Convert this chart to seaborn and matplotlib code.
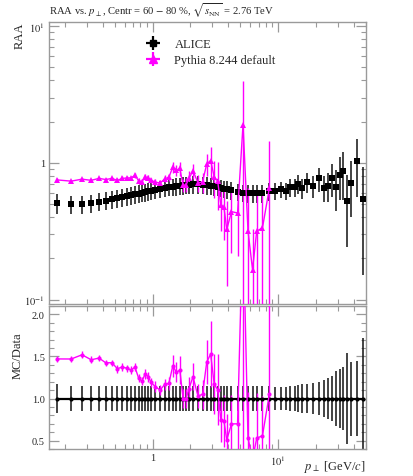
import numpy as np
import pandas as pd
import matplotlib
matplotlib.use("Agg")
import matplotlib.pyplot as plt
import seaborn as sns
from matplotlib.lines import Line2D
from matplotlib.ticker import FixedLocator, FixedFormatter, NullFormatter, MultipleLocator, LogLocator

# ---------------- data ----------------
pt = [0.175, 0.225, 0.275, 0.325, 0.375, 0.425, 0.475, 0.525, 0.575, 0.625,
      0.675, 0.725, 0.775, 0.825, 0.875, 0.925, 0.975,
      1.05, 1.15, 1.25, 1.35, 1.45, 1.55, 1.65, 1.75, 1.85, 1.95,
      2.1, 2.3, 2.5, 2.7, 2.9, 3.1, 3.3, 3.5, 3.7, 3.9,
      4.25, 4.75, 5.25, 5.75, 6.25, 6.75, 7.5, 8.5, 9.5,
      10.5, 11.5, 12.5, 13.5, 14.5, 15.5,
      17, 19, 21, 23, 25, 27, 29, 31, 33, 35, 38, 42.5, 47.5]

alice_raa = [0.51, 0.50, 0.50, 0.51, 0.52, 0.53, 0.54, 0.55, 0.56, 0.57,
             0.58, 0.59, 0.595, 0.605, 0.61, 0.62, 0.625,
             0.635, 0.645, 0.655, 0.665, 0.67, 0.675, 0.68, 0.685, 0.69, 0.69,
             0.695, 0.695, 0.69, 0.685, 0.68, 0.675, 0.665, 0.655, 0.645, 0.64,
             0.63, 0.615, 0.605, 0.60, 0.60, 0.60, 0.60, 0.62, 0.625,
             0.64, 0.625, 0.665, 0.665, 0.70, 0.655,
             0.72, 0.68, 0.77, 0.66, 0.68, 0.77, 0.665, 0.82, 0.87, 0.53, 0.715, 1.03, 0.54]

alice_relerr = [0.17, 0.15, 0.15, 0.15, 0.15, 0.15, 0.15, 0.15, 0.15, 0.15,
                0.15, 0.15, 0.15, 0.15, 0.15, 0.15, 0.15,
                0.145, 0.145, 0.145, 0.145, 0.145, 0.145, 0.145, 0.145, 0.145, 0.145,
                0.145, 0.145, 0.145, 0.145, 0.145, 0.145, 0.145, 0.145, 0.145, 0.145,
                0.145, 0.145, 0.145, 0.145, 0.145, 0.145, 0.145, 0.145, 0.14,
                0.14, 0.14, 0.15, 0.15, 0.16, 0.17,
                0.17, 0.18, 0.20, 0.22, 0.24, 0.27, 0.33, 0.35, 0.38, 0.54, 0.44, 0.45, 0.72]

pythia_raa = [0.75, 0.735, 0.76, 0.745, 0.77, 0.755, 0.77, 0.745, 0.77, 0.775,
              0.777, 0.81, 0.74, 0.73, 0.79, 0.78, 0.745,
              0.725, 0.71, 0.765, 0.785, 0.93, 0.885, 0.91, 0.685, 0.69, 0.77,
              0.875, 0.715, 0.725, 0.98, 1.04, 0.79, 0.735, 0.49, 0.475, 0.326,
              0.44, 0.43, 1.90, 0.32, 0.166, 0.317, 0.335, 0.65]

pythia_err = [0.02, 0.02, 0.02, 0.02, 0.02, 0.02, 0.02, 0.025, 0.025, 0.025,
              0.03, 0.03, 0.03, 0.03, 0.035, 0.035, 0.035,
              0.04, 0.04, 0.045, 0.05, 0.085, 0.08, 0.11, 0.075, 0.08, 0.10,
              0.11, 0.10, 0.12, 0.18, 0.27, 0.24, 0.28, 0.17, 0.20, 0.20,
              0.22, 0.22, 2.05, 0.33, 0.16, 0.32, 0.28, 0.80]

title = r"RAA vs. $p_\perp$, Centr = 60 $-$ 80 %, $\sqrt{s_\mathrm{NN}}$ = 2.76 TeV"
legend_labels = ["ALICE", "Pythia 8.244 default"]

# ---------------- style ----------------
sns.set_style("ticks")
plt.rcParams['font.family'] = ['Liberation Serif', 'DejaVu Serif']
plt.rcParams['mathtext.fontset'] = 'stix'

MAG = '#ff00ff'
FRAME = '#9a9a9a'

d = pd.DataFrame({'pt': pt, 'raa': alice_raa, 'rel': alice_relerr})
d['err'] = d['raa'] * d['rel']
m = pd.DataFrame({'pt': pt[:len(pythia_raa)], 'raa': pythia_raa, 'err': pythia_err})
m['ratio'] = m['raa'] / d['raa'][:len(m)].values
m['rerr'] = m['err'] / d['raa'][:len(m)].values

fig = plt.figure(figsize=(4.13, 4.77), dpi=100)
ax1 = fig.add_axes([0.1186, 0.3606, 0.7676, 0.5912])
ax2 = fig.add_axes([0.1186, 0.0566, 0.7676, 0.2998])

# ---- main panel ----
lo_d = np.minimum(d['err'], d['raa'] * 0.999)
ax1.errorbar(d['pt'], d['raa'], yerr=[lo_d, d['err']], fmt='none', ecolor='#111111', elinewidth=1.1, zorder=2)
sns.scatterplot(data=d, x='pt', y='raa', ax=ax1, marker='s', color='black', s=18, linewidth=0, zorder=4)

lo_m = np.minimum(m['err'], m['raa'] * 0.999)
ax1.errorbar(m['pt'], m['raa'], yerr=[lo_m, m['err']], fmt='none', ecolor=MAG, elinewidth=1.0, zorder=3)
sns.lineplot(data=m, x='pt', y='raa', ax=ax1, color=MAG, lw=1.0, marker='^', markersize=5,
             markeredgewidth=0, errorbar=None, zorder=5)

ax1.set_xscale('log')
ax1.set_yscale('log')
ax1.set_xlim(0.15, 50)
ax1.set_ylim(0.093, 10.7)
ax1.set_xlabel('')
ax1.set_ylabel('')
ax1.yaxis.set_major_locator(FixedLocator([0.1, 1, 10]))
ax1.yaxis.set_major_formatter(FixedFormatter([r'$10^{-1}$', '1', r'$10^{1}$']))
ax1.yaxis.set_minor_locator(LogLocator(base=10, subs=np.arange(2, 10)))
ax1.yaxis.set_minor_formatter(NullFormatter())
ax1.xaxis.set_major_locator(FixedLocator([1, 10]))
ax1.xaxis.set_minor_locator(LogLocator(base=10, subs=np.arange(2, 10)))
ax1.xaxis.set_major_formatter(NullFormatter())
ax1.xaxis.set_minor_formatter(NullFormatter())

# legend
h1 = (Line2D([], [], ls='none', marker='+', ms=10, mew=1.6, color='black'),
      Line2D([], [], ls='none', marker='s', ms=5, color='black'))
h2 = (Line2D([], [], ls='none', marker='+', ms=10, mew=1.6, color=MAG),
      Line2D([], [], ls='none', marker='^', ms=6, color=MAG))
ax1.legend([h1, h2], legend_labels, loc='upper left', bbox_to_anchor=(0.305, 0.942),
           frameon=False, fontsize=9, handlelength=1.2, handletextpad=1.1,
           labelspacing=0.3, borderpad=0, borderaxespad=0)

# ---- ratio panel ----
ax2.errorbar(d['pt'], np.ones(len(d)), yerr=d['rel'], fmt='none', ecolor='#111111', elinewidth=1.1, zorder=2)
sns.lineplot(x=d['pt'], y=np.ones(len(d)), ax=ax2, color='black', lw=1.6, marker='o', markersize=3,
             markeredgewidth=0, errorbar=None, zorder=4)
ax2.errorbar(m['pt'], m['ratio'], yerr=m['rerr'], fmt='none', ecolor=MAG, elinewidth=1.0, zorder=3)
sns.lineplot(data=m, x='pt', y='ratio', ax=ax2, color=MAG, lw=1.0, marker='o', markersize=3,
             markeredgewidth=0, errorbar=None, zorder=5)

ax2.set_xscale('log')
ax2.set_xlim(0.15, 50)
ax2.set_ylim(0.4, 2.1)
ax2.set_xlabel('')
ax2.set_ylabel('')
ax2.xaxis.set_major_locator(FixedLocator([1, 10]))
ax2.xaxis.set_major_formatter(FixedFormatter(['1', r'$10^{1}$']))
ax2.xaxis.set_minor_locator(LogLocator(base=10, subs=np.arange(2, 10)))
ax2.xaxis.set_minor_formatter(NullFormatter())
ax2.yaxis.set_major_locator(FixedLocator([0.5, 1.0, 1.5, 2.0]))
ax2.yaxis.set_major_formatter(FixedFormatter(['0.5', '1.0', '1.5', '2.0']))
ax2.yaxis.set_minor_locator(MultipleLocator(0.1))

for ax in (ax1, ax2):
    for s in ax.spines.values():
        s.set_visible(True)
        s.set_color(FRAME)
        s.set_linewidth(1.0)
    ax.tick_params(which='both', direction='in', top=True, right=True, color=FRAME, labelsize=7.5, pad=3)
    ax.tick_params(which='major', length=7, width=0.9)
    ax.tick_params(which='minor', length=3.5, width=0.8)

fig.text(49 / 413, 1 - 11 / 477, title, ha='left', va='center', fontsize=7.7)
fig.text(20 / 413, 1 - 23 / 477, 'RAA', rotation=90, ha='center', va='top', fontsize=9)
fig.text(18 / 413, 1 - 332 / 477, 'MC/Data', rotation=90, ha='center', va='top', fontsize=9)
fig.text(366 / 413, 0.004, r'$p_\perp$ [GeV/$c$]', ha='right', va='bottom', fontsize=9)

fig.savefig('out.png', dpi=100)
